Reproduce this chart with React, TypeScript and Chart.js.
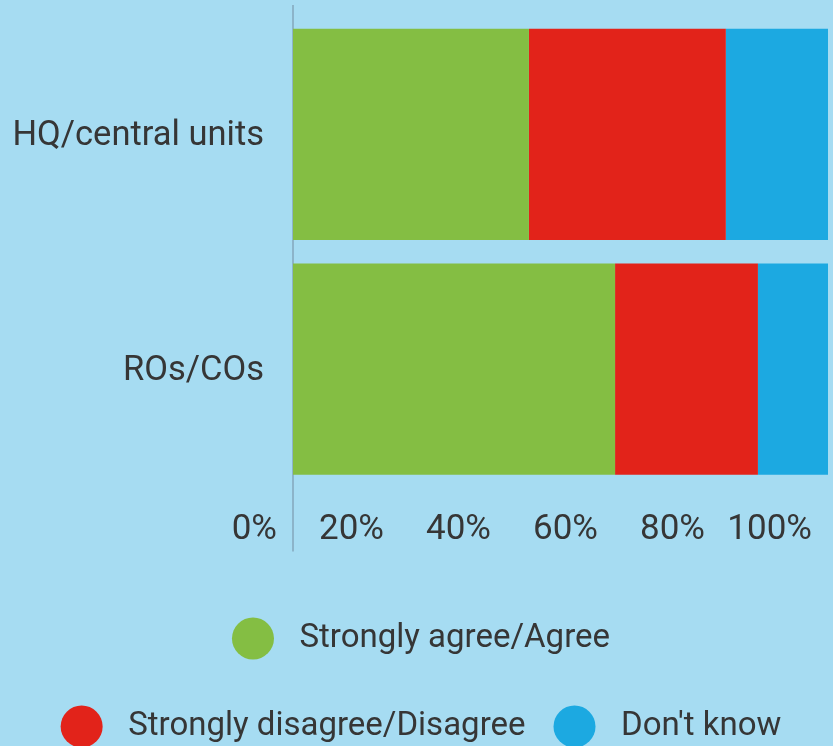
import React, { useEffect, useRef } from 'react';
import { Chart, registerables } from 'chart.js';

Chart.register(...registerables);

const categories = ['HQ/central units', 'ROs/COs'];
const seriesNames = ['Strongly agree/Agree', 'Strongly disagree/Disagree', "Don't know"];
const agree = [44.1, 60.2];
const disagree = [36.8, 26.7];
const dontKnow = [19.1, 13.1];
const xTicks = [0, 20, 40, 60, 80, 100];
const colors = ['#84BE43', '#E2231A', '#1CA9E1'];

const BG = '#A6DCF2';
const TEXT = '#363636';

const axisLine = {
  id: 'axisLine',
  beforeDatasetsDraw(chart: any) {
    const ctx = chart.ctx;
    const xs = chart.scales.x;
    const x = xs.getPixelForValue(0);
    ctx.save();
    ctx.strokeStyle = '#8CB4C9';
    ctx.lineWidth = 2;
    ctx.beginPath();
    ctx.moveTo(x, chart.chartArea.top - 12);
    ctx.lineTo(x, xs.bottom);
    ctx.stroke();
    ctx.restore();
  },
};

const legendCircles = {
  id: 'legendCircles',
  afterDraw(chart: any) {
    const legend = chart.legend;
    if (!legend || !legend.legendHitBoxes) return;
    const ctx = chart.ctx;
    const bw = legend.options.labels.boxWidth;
    legend.legendHitBoxes.forEach((hb: any, i: number) => {
      const item = legend.legendItems[i];
      const ds = chart.data.datasets[item.datasetIndex];
      ctx.save();
      ctx.fillStyle = ds.backgroundColor;
      ctx.beginPath();
      ctx.arc(hb.left + bw / 2, hb.top + hb.height / 2, 21, 0, Math.PI * 2);
      ctx.fill();
      ctx.restore();
    });
  },
};

export default function App() {
  const ref = useRef<HTMLCanvasElement | null>(null);

  useEffect(() => {
    if (!ref.current) return;
    Chart.defaults.font.family = 'Roboto';
    const chart = new Chart(ref.current, {
      type: 'bar',
      data: {
        labels: categories,
        datasets: [agree, disagree, dontKnow].map((d, i) => ({
          label: seriesNames[i],
          data: d,
          backgroundColor: colors[i],
          borderWidth: 0,
          barPercentage: 0.9,
          categoryPercentage: 1,
        })),
      },
      options: {
        indexAxis: 'y',
        responsive: false,
        animation: false,
        layout: { padding: { top: 17, left: 5, right: 5, bottom: 0 } },
        scales: {
          x: {
            stacked: true,
            min: 0,
            max: 100,
            afterBuildTicks: (scale: any) => {
              scale.ticks = xTicks.map((v) => ({ value: v }));
            },
            grid: { display: false, drawTicks: true, tickLength: 23 },
            border: { display: false },
            ticks: {
              color: TEXT,
              font: { size: 35 },
              padding: 0,
              align: 'end',
              labelOffset: -16,
              maxRotation: 0,
              autoSkip: false,
              callback: (v: any) => v + '%',
            },
          },
          y: {
            stacked: true,
            afterFit: (scale: any) => {
              scale.width = 288;
            },
            grid: { display: false, drawTicks: true, tickLength: 29 },
            border: { display: false },
            ticks: { color: TEXT, font: { size: 34.5, lineHeight: 0.8 }, padding: 0, labelOffset: 2 },
          },
        },
        plugins: {
          tooltip: { enabled: false },
          legend: {
            position: 'bottom',
            title: { display: true, text: '', font: { size: 10 }, padding: { top: 0, bottom: 21.5 } },
            labels: {
              color: TEXT,
              font: { size: 33 },
              boxWidth: 60,
              boxHeight: 69,
              padding: 19,
              generateLabels: (c: any) =>
                c.data.datasets.map((ds: any, i: number) => ({
                  text: ds.label,
                  fillStyle: 'rgba(0,0,0,0)',
                  strokeStyle: 'rgba(0,0,0,0)',
                  lineWidth: 0,
                  fontColor: TEXT,
                  hidden: false,
                  datasetIndex: i,
                })),
            },
          },
        },
      },
      plugins: [axisLine, legendCircles],
    } as any);
    return () => chart.destroy();
  }, []);

  return (
    <div
      style={{
        position: 'fixed',
        left: 0,
        top: 0,
        width: 833,
        height: 746,
        overflow: 'hidden',
        background: BG,
      }}
    >
      <canvas ref={ref} width={833} height={771} style={{ display: 'block' }} />
    </div>
  );
}
